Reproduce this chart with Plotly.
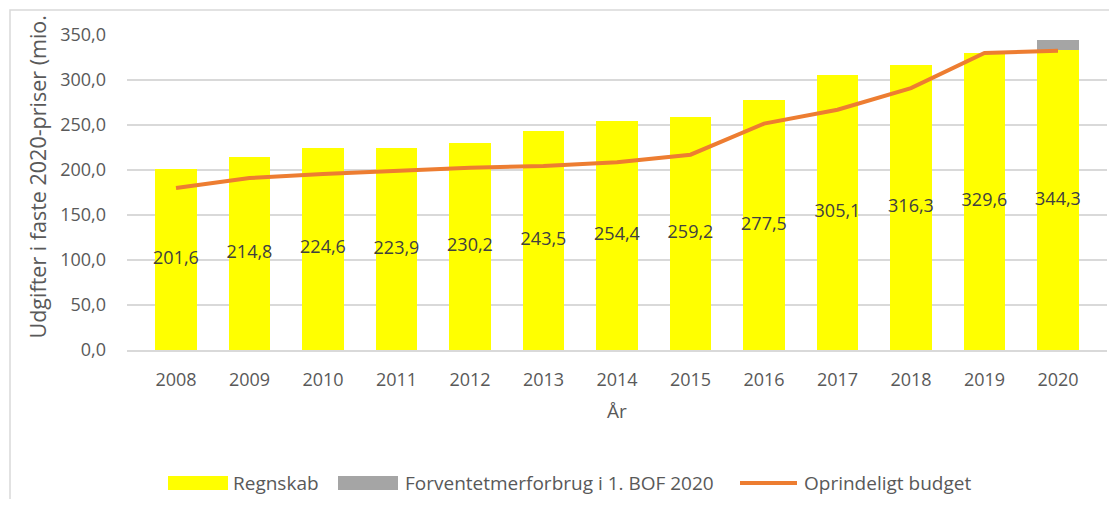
import plotly.graph_objects as go

years = ["2008", "2009", "2010", "2011", "2012", "2013", "2014",
         "2015", "2016", "2017", "2018", "2019", "2020"]
regnskab = [201.6, 214.8, 224.6, 223.9, 230.2, 243.5, 254.4,
            259.2, 277.5, 305.1, 316.3, 329.6, 333.0]
merforbrug = [0, 0, 0, 0, 0, 0, 0, 0, 0, 0, 0, 0, 11.3]
budget = [180.0, 191.0, 195.5, 199.0, 202.5, 204.5, 208.5,
          217.0, 251.5, 267.0, 291.0, 330.0, 332.5]
label_text = ["201,6", "214,8", "224,6", "223,9", "230,2", "243,5", "254,4",
              "259,2", "277,5", "305,1", "316,3", "329,6", "344,3"]
y_ticks = [0, 50, 100, 150, 200, 250, 300, 350]

FONT = "Open Sans"
GRAY = "#595959"
OFF = 8                      # page (body) margin of the browser
W, H = 1117 - 2 * OFF, 507 - 2 * OFF
L, T = 127 - OFF, 35 - OFF
R = W - (1107 - OFF)
B = H - (350 - OFF)
pw, ph = W - L - R, H - T - B


def px_x(x):
    return (x - OFF - L) / pw


def px_y(y):
    return (H - B - (y - OFF)) / ph


fig = go.Figure()
fig.add_trace(go.Bar(x=years, y=regnskab, name="Regnskab",
                     marker=dict(color="#FFFF00", line=dict(width=0)),
                     showlegend=False))
fig.add_trace(go.Bar(x=years, y=merforbrug, name="Forventetmerforbrug i 1. BOF 2020",
                     marker=dict(color="#A5A5A5", line=dict(width=0)),
                     showlegend=False))
fig.add_trace(go.Scatter(x=years, y=budget, mode="lines", name="Oprindeligt budget",
                         line=dict(color="#ED7D31", width=4), showlegend=False))
fig.add_trace(go.Scatter(x=years, y=[v / 2 for v in regnskab], mode="text",
                         text=label_text, textposition="middle center",
                         textfont=dict(family=FONT, size=18, color="#404040"),
                         showlegend=False, cliponaxis=False, hoverinfo="skip"))

shapes = [
    # outer chart border (left and top)
    dict(type="path", xref="paper", yref="paper",
         path=f"M {px_x(10)} {px_y(560)} L {px_x(10)} {px_y(10)} L {px_x(1130)} {px_y(10)}",
         line=dict(color="#D9D9D9", width=1.5)),
    # legend swatches
    dict(type="rect", xref="paper", yref="paper",
         x0=px_x(168), x1=px_x(228), y0=px_y(490), y1=px_y(476),
         fillcolor="#FFFF00", line=dict(width=0)),
    dict(type="rect", xref="paper", yref="paper",
         x0=px_x(338), x1=px_x(398), y0=px_y(490), y1=px_y(476),
         fillcolor="#A5A5A5", line=dict(width=0)),
    dict(type="line", xref="paper", yref="paper",
         x0=px_x(740), x1=px_x(797), y0=px_y(483), y1=px_y(483),
         line=dict(color="#ED7D31", width=4)),
]

annotations = [
    dict(text="Udgifter i faste 2020-priser (mio. kr.)", textangle=-90,
         xref="paper", yref="paper", x=px_x(37), y=px_y(341),
         xanchor="center", yanchor="bottom", showarrow=False,
         font=dict(family=FONT, size=21.5, color=GRAY)),
    dict(text="År", xref="paper", yref="paper", x=0.5, y=px_y(411),
         xanchor="center", yanchor="middle", showarrow=False,
         font=dict(family=FONT, size=19, color=GRAY)),
    dict(text="Regnskab", xref="paper", yref="paper", x=px_x(231), y=px_y(483),
         xanchor="left", yanchor="middle", showarrow=False,
         font=dict(family=FONT, size=19, color=GRAY)),
    dict(text="Forventetmerforbrug i 1. BOF 2020", xref="paper", yref="paper",
         x=px_x(403), y=px_y(483), xanchor="left", yanchor="middle", showarrow=False,
         font=dict(family=FONT, size=19, color=GRAY)),
    dict(text="Oprindeligt budget", xref="paper", yref="paper", x=px_x(802), y=px_y(483),
         xanchor="left", yanchor="middle", showarrow=False,
         font=dict(family=FONT, size=19, color=GRAY)),
]

fig.update_layout(
    width=W, height=H, autosize=False,
    margin=dict(l=L, r=R, t=T, b=B, pad=0),
    paper_bgcolor="white", plot_bgcolor="white",
    barmode="stack", bargap=0.44,
    separators=",.",
    font=dict(family=FONT, size=18, color=GRAY),
    shapes=shapes, annotations=annotations,
    showlegend=False,
    xaxis=dict(type="category", showgrid=False, showline=True, automargin=False,
               linecolor="#D9D9D9", linewidth=1.5, ticks="",
               ticklabelstandoff=13,
               tickfont=dict(family=FONT, size=18, color=GRAY)),
    yaxis=dict(range=[0, 350], tickvals=y_ticks, tickformat=".1f", automargin=False,
               showgrid=True, gridcolor="#D9D9D9", gridwidth=1.5,
               zeroline=False, showline=False, ticks="",
               ticklabelstandoff=20,
               tickfont=dict(family=FONT, size=18, color=GRAY)),
)

fig.write_html("out.html")
